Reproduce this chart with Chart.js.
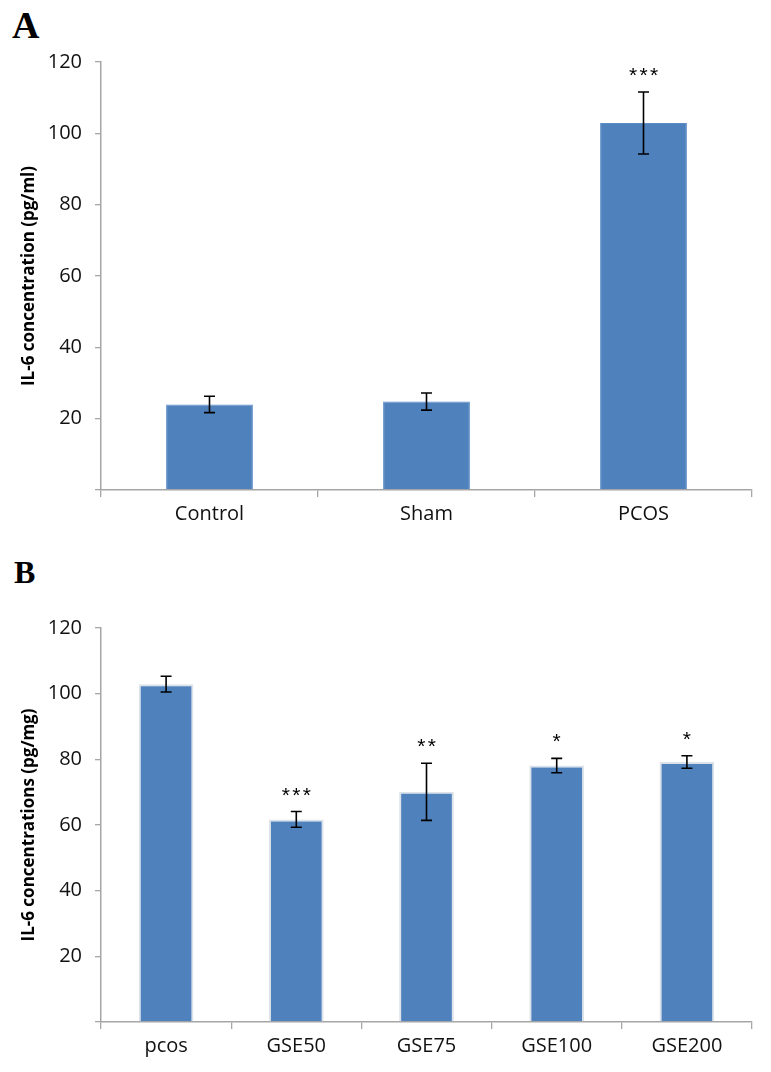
<!DOCTYPE html>
<html lang="en">
<head>
<meta charset="UTF-8">
<title>IL-6 concentration</title>
<script src="https://cdn.jsdelivr.net/npm/chart.js@4.4.1/dist/chart.umd.min.js"></script>
<style>
  body { margin: 0; background: #fff; width: 771px; height: 1072px; position: relative; overflow: hidden; }
  .panel-label { position: absolute; font-family: "Liberation Serif", "Times New Roman", serif; font-weight: bold; color: #000; line-height: 1; }
  #chartA { position: absolute; left: 0; top: 0; }
  #chartB { position: absolute; left: 0; top: 530px; }
</style>
</head>
<body>
<div class="panel-label" style="left:12px; top:6px; font-size:38px;">A</div>
<div class="panel-label" style="left:14px; top:556px; font-size:32px;">B</div>
<canvas id="chartA" width="771" height="530"></canvas>
<canvas id="chartB" width="771" height="542"></canvas>

<script>
  // panel A
  const groupsA = ['Control', 'Sham', 'PCOS'];
  const meansA = [24, 24.8, 102.9];
  const errorsA = [2.3, 2.4, 8.7];
  const starsA = ['', '', '***'];

  // panel B
  const groupsB = ['pcos', 'GSE50', 'GSE75', 'GSE100', 'GSE200'];
  const meansB = [102.9, 61.7, 70.1, 78.1, 79.2];
  const errorsB = [2.4, 2.4, 8.7, 2.2, 1.9];
  const starsB = ['', '***', '**', '*', '*'];

  const yMin = 0, yMax = 120, yStep = 20;

  const axisGray = '#a6a6a6';
  const barBlue = '#4f81bd';

  // draws the +/- error bars and the significance stars
  const errorBarPlugin = {
    id: 'errorBars',
    afterDatasetsDraw(chart, args, opts) {
      const ctx = chart.ctx;
      const yScale = chart.scales.y;
      const meta = chart.getDatasetMeta(0);
      const values = chart.data.datasets[0].data;
      ctx.save();
      ctx.strokeStyle = '#000';
      ctx.lineWidth = 1.6;
      meta.data.forEach((bar, i) => {
        const x = bar.x;
        const yt = yScale.getPixelForValue(values[i] + opts.errors[i]);
        const yb = yScale.getPixelForValue(values[i] - opts.errors[i]);
        ctx.beginPath();
        ctx.moveTo(x, yt); ctx.lineTo(x, yb);
        ctx.moveTo(x - 5.5, yt); ctx.lineTo(x + 5.5, yt);
        ctx.moveTo(x - 5.5, yb); ctx.lineTo(x + 5.5, yb);
        ctx.stroke();

        const s = opts.stars[i];
        if (s) {
          ctx.fillStyle = '#000';
          ctx.font = '21px "Liberation Sans", Arial, sans-serif';
          ctx.textAlign = 'center';
          ctx.textBaseline = 'alphabetic';
          const gap = 10.5;
          for (let k = 0; k < s.length; k++) {
            const sx = x + (k - (s.length - 1) / 2) * gap;
            ctx.fillText('*', sx, yt - 10);
          }
        }
      });
      ctx.restore();
    }
  };

  function makeChart(id, labels, values, errors, stars, o) {
    return new Chart(document.getElementById(id), {
      type: 'bar',
      data: {
        labels: labels,
        datasets: [{
          data: values,
          backgroundColor: barBlue,
          borderColor: o.border,
          borderWidth: o.borderWidth,
          barPercentage: o.barPct,
          categoryPercentage: 1.0
        }]
      },
      options: {
        responsive: false,
        animation: false,
        events: [],
        layout: { padding: { top: o.padTop, right: 19, left: 0, bottom: 0 } },
        plugins: {
          legend: { display: false },
          tooltip: { enabled: false },
          errorBars: { errors: errors, stars: stars }
        },
        scales: {
          x: {
            grid: { drawOnChartArea: false, drawTicks: true, tickLength: 7, color: axisGray, lineWidth: 1.3 },
            border: { color: axisGray, width: 1.5 },
            ticks: { color: '#111', font: { family: '"Open Sans", sans-serif', size: 20 }, padding: 5, maxRotation: 0 },
            afterFit(scale) { scale.height = o.xHeight; }
          },
          y: {
            min: yMin,
            max: yMax,
            grid: { drawOnChartArea: false, drawTicks: true, tickLength: 6, color: axisGray, lineWidth: 1.3 },
            border: { color: axisGray, width: 1.5 },
            ticks: {
              stepSize: yStep,
              color: '#111',
              padding: 13,
              font: { family: '"Open Sans", sans-serif', size: 20 },
              callback: v => v === 0 ? '' : v
            },
            title: {
              display: true,
              text: o.title,
              color: '#000',
              font: { family: '"Open Sans", sans-serif', size: 17, weight: 'bold' },
              padding: { top: 19, bottom: 0 }
            },
            afterFit(scale) { scale.width = 101; }
          }
        }
      },
      plugins: [errorBarPlugin]
    });
  }

  makeChart('chartA', groupsA, meansA, errorsA, starsA, {
    title: 'IL-6 concentration (pg/ml)',
    padTop: 62, xHeight: 40, barPct: 0.4,
    border: '#5b8cc6', borderWidth: 1
  });

  makeChart('chartB', groupsB, meansB, errorsB, starsB, {
    title: 'IL-6 concentrations (pg/mg)',
    padTop: 98, xHeight: 50, barPct: 0.42,
    border: '#dbe2ea', borderWidth: 2
  });
</script>
</body>
</html>
